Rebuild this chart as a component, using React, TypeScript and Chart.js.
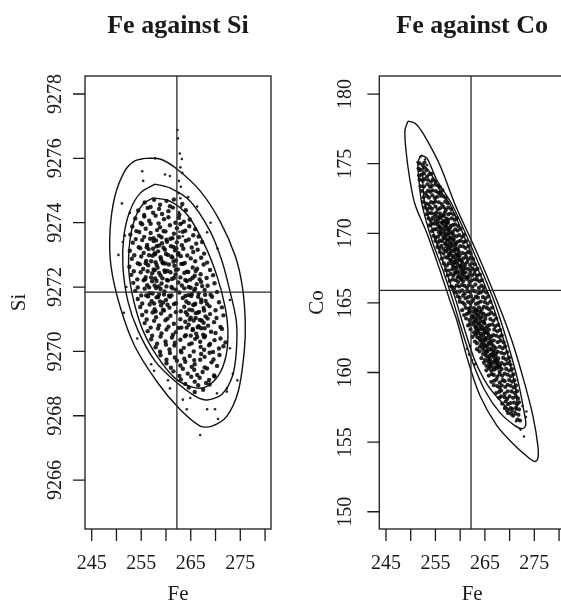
import React, { useEffect, useRef } from "react";
import { Chart, registerables } from "chart.js";

Chart.register(...registerables);

// ---------- axes ----------
const feTicks = [245, 250, 255, 260, 265, 270, 275, 280];
const feTickLabels = ["245", "", "255", "", "265", "", "275", ""];
const siTicks = [9266, 9268, 9270, 9272, 9274, 9276, 9278];
const coTicks = [150, 155, 160, 165, 170, 175, 180];
const feLimits = [243.65, 281.2];
const siLimits = [9264.48, 9278.56];
const coLimits = [148.76, 181.3];
const feReference = 262.2;
const siReference = 9271.84;
const coReference = 165.9;

// ---------- Fe against Si: contours ----------
const siContourOuter = [
  [255.8, 9276.0], [258.8, 9275.98], [262.2, 9275.67], [266.9, 9274.99], [270.9, 9274.05], [274.0, 9272.96],
  [275.4, 9272.03], [276.0, 9270.94], [275.8, 9270.0], [274.6, 9268.77], [272.3, 9267.99], [269.3, 9267.68],
  [266.9, 9267.68], [262.8, 9268.2], [258.4, 9269.01], [253.7, 9270.16], [250.7, 9271.41], [248.9, 9272.65],
  [248.7, 9273.74], [249.7, 9274.83], [251.7, 9275.61], [253.7, 9275.92], [255.8, 9276.0],
];
const siContourMiddle = [
  [257.8, 9275.2], [260.8, 9275.08], [264.9, 9274.67], [268.9, 9273.74], [271.3, 9272.81], [272.9, 9271.88],
  [274.2, 9270.94], [274.2, 9270.0], [273.4, 9269.23], [271.3, 9268.67], [268.3, 9268.49], [265.9, 9268.61],
  [261.8, 9269.08], [257.8, 9269.7], [254.4, 9270.63], [252.3, 9271.56], [251.3, 9272.65], [251.5, 9273.59],
  [252.7, 9274.36], [254.8, 9274.92], [257.8, 9275.2],
];
const siContourInner = [
  [257.4, 9274.77], [260.8, 9274.67], [264.5, 9274.21], [267.9, 9273.28], [270.3, 9272.34], [271.9, 9271.41],
  [272.5, 9270.63], [272.1, 9269.85], [270.5, 9269.23], [267.9, 9268.89], [265.3, 9268.89], [261.8, 9269.17],
  [258.2, 9269.85], [255.4, 9270.63], [253.5, 9271.56], [252.5, 9272.5], [252.7, 9273.43], [253.7, 9274.12],
  [255.4, 9274.58], [257.4, 9274.77],
];

// ---------- Fe against Si: draws (core) ----------
const siDraws = [
  [255.7, 9274.63], [256.9, 9274.49], [257.6, 9274.71], [258.8, 9274.56], [260.1, 9274.68], [260.8, 9274.51], [261.6, 9274.72], [263.3, 9274.58],
  [254.4, 9274.38], [255.6, 9274.24], [256.3, 9274.46], [257.4, 9274.31], [258.6, 9274.43], [259.2, 9274.27], [260.5, 9274.36], [261.4, 9274.47], [262.7, 9274.25], [264.0, 9274.39],
  [253.8, 9274.13], [254.9, 9273.99], [255.6, 9274.19], [256.6, 9274.06], [257.9, 9274.22], [258.5, 9273.98], [259.6, 9274.11], [260.5, 9274.17], [261.9, 9274.0], [262.6, 9274.15], [263.6, 9274.03], [264.8, 9274.1],
  [253.2, 9273.88], [254.0, 9273.74], [255.2, 9273.95], [255.9, 9273.81], [256.9, 9273.97], [258.2, 9273.77], [258.8, 9273.86], [259.9, 9273.73], [260.8, 9273.92], [262.2, 9273.83], [262.9, 9273.96], [263.9, 9273.75], [264.7, 9273.89], [265.9, 9273.8],
  [252.8, 9273.63], [253.9, 9273.49], [254.6, 9273.71], [255.6, 9273.56], [256.9, 9273.68], [257.5, 9273.52], [258.6, 9273.6], [259.5, 9273.74], [260.9, 9273.5], [261.6, 9273.66], [262.6, 9273.55], [263.4, 9273.72], [264.6, 9273.48], [265.5, 9273.61], [266.6, 9273.57],
  [253.3, 9273.38], [254.5, 9273.24], [255.2, 9273.46], [256.2, 9273.31], [257.5, 9273.43], [258.1, 9273.27], [259.2, 9273.36], [260.1, 9273.47], [261.5, 9273.25], [262.2, 9273.39], [263.2, 9273.3], [264.0, 9273.44], [265.2, 9273.23], [266.1, 9273.35], [267.3, 9273.4],
  [252.7, 9273.13], [253.6, 9272.99], [254.8, 9273.21], [255.5, 9273.06], [256.5, 9273.18], [257.8, 9273.02], [258.4, 9273.11], [259.5, 9273.22], [260.4, 9273.0], [261.8, 9273.14], [262.5, 9273.05], [263.5, 9273.19], [264.3, 9272.98], [265.5, 9273.09], [266.4, 9273.16], [267.7, 9273.04],
  [253.1, 9272.88], [254.3, 9272.74], [255.0, 9272.95], [256.0, 9272.81], [257.3, 9272.97], [257.9, 9272.77], [259.0, 9272.86], [259.9, 9272.73], [261.3, 9272.92], [262.0, 9272.83], [263.0, 9272.96], [263.8, 9272.75], [265.0, 9272.89], [265.9, 9272.8], [267.1, 9272.91], [268.3, 9272.76],
  [252.6, 9272.63], [253.5, 9272.49], [254.7, 9272.71], [255.4, 9272.56], [256.4, 9272.68], [257.7, 9272.52], [258.3, 9272.6], [259.4, 9272.74], [260.3, 9272.5], [261.7, 9272.66], [262.4, 9272.55], [263.4, 9272.72], [264.2, 9272.48], [265.4, 9272.61], [266.3, 9272.57], [267.6, 9272.7], [268.9, 9272.53],
  [253.0, 9272.38], [254.2, 9272.24], [254.9, 9272.46], [255.9, 9272.31], [257.2, 9272.43], [257.8, 9272.27], [258.9, 9272.36], [259.8, 9272.47], [261.2, 9272.25], [261.9, 9272.39], [262.9, 9272.3], [263.7, 9272.44], [264.9, 9272.23], [265.8, 9272.35], [267.0, 9272.4], [268.2, 9272.28], [269.5, 9272.37],
  [253.4, 9272.13], [254.3, 9271.99], [255.5, 9272.21], [256.2, 9272.06], [257.2, 9272.18], [258.5, 9272.02], [259.1, 9272.11], [260.2, 9272.22], [261.1, 9272.0], [262.5, 9272.14], [263.2, 9272.05], [264.2, 9272.19], [265.0, 9271.98], [266.2, 9272.09], [267.1, 9272.16], [268.4, 9272.04], [269.8, 9272.12],
  [253.8, 9271.88], [255.0, 9271.74], [255.7, 9271.95], [256.7, 9271.81], [258.0, 9271.97], [258.6, 9271.77], [259.7, 9271.86], [260.6, 9271.73], [262.0, 9271.92], [262.7, 9271.83], [263.7, 9271.96], [264.5, 9271.75], [265.7, 9271.89], [266.6, 9271.8], [267.8, 9271.91], [269.0, 9271.76], [270.3, 9271.85],
  [254.3, 9271.63], [255.2, 9271.49], [256.4, 9271.71], [257.1, 9271.56], [258.1, 9271.68], [259.4, 9271.52], [260.0, 9271.6], [261.1, 9271.74], [262.0, 9271.5], [263.4, 9271.66], [264.1, 9271.55], [265.1, 9271.72], [265.9, 9271.48], [267.1, 9271.61], [268.0, 9271.57], [269.3, 9271.7], [270.7, 9271.53],
  [254.8, 9271.38], [256.0, 9271.24], [256.7, 9271.46], [257.7, 9271.31], [259.0, 9271.43], [259.6, 9271.27], [260.7, 9271.36], [261.6, 9271.47], [263.0, 9271.25], [263.7, 9271.39], [264.7, 9271.3], [265.5, 9271.44], [266.7, 9271.23], [267.6, 9271.35], [268.8, 9271.4], [270.0, 9271.28], [271.3, 9271.37],
  [255.2, 9271.13], [256.1, 9270.99], [257.3, 9271.21], [258.0, 9271.06], [259.0, 9271.18], [260.3, 9271.02], [260.9, 9271.11], [262.0, 9271.22], [262.9, 9271.0], [264.3, 9271.14], [265.0, 9271.05], [266.0, 9271.19], [266.8, 9270.98], [268.0, 9271.09], [268.9, 9271.16], [270.2, 9271.04], [271.6, 9271.12],
  [255.7, 9270.88], [256.9, 9270.74], [257.6, 9270.95], [258.6, 9270.81], [259.9, 9270.97], [260.5, 9270.77], [261.6, 9270.86], [262.5, 9270.73], [263.9, 9270.92], [264.6, 9270.83], [265.6, 9270.96], [266.4, 9270.75], [267.6, 9270.89], [268.5, 9270.8], [269.7, 9270.91], [271.0, 9270.76],
  [256.3, 9270.63], [257.2, 9270.49], [258.4, 9270.71], [259.1, 9270.56], [260.1, 9270.68], [261.4, 9270.52], [262.0, 9270.6], [263.1, 9270.74], [264.0, 9270.5], [265.4, 9270.66], [266.1, 9270.55], [267.1, 9270.72], [267.9, 9270.48], [269.1, 9270.61], [270.0, 9270.57], [271.3, 9270.7],
  [257.0, 9270.38], [258.2, 9270.24], [258.9, 9270.46], [259.9, 9270.31], [261.2, 9270.43], [261.8, 9270.27], [262.9, 9270.36], [263.8, 9270.47], [265.2, 9270.25], [265.9, 9270.39], [266.9, 9270.3], [267.7, 9270.44], [268.9, 9270.23], [269.8, 9270.35], [271.0, 9270.4], [272.0, 9270.28],
  [257.9, 9270.13], [258.8, 9269.99], [260.0, 9270.21], [260.7, 9270.06], [261.7, 9270.18], [263.0, 9270.02], [263.6, 9270.11], [264.7, 9270.22], [265.6, 9270.0], [267.0, 9270.14], [267.7, 9270.05], [268.7, 9270.19], [269.5, 9269.98], [270.7, 9270.09], [271.6, 9270.16],
  [258.9, 9269.88], [260.1, 9269.74], [260.8, 9269.95], [261.8, 9269.81], [263.1, 9269.97], [263.7, 9269.77], [264.8, 9269.86], [265.7, 9269.73], [267.1, 9269.92], [267.8, 9269.83], [268.8, 9269.96], [269.6, 9269.75], [270.8, 9269.89],
  [260.1, 9269.63], [261.0, 9269.49], [262.2, 9269.71], [262.9, 9269.56], [263.9, 9269.68], [265.2, 9269.52], [265.8, 9269.6], [266.9, 9269.74], [267.8, 9269.5], [269.2, 9269.66], [270.3, 9269.55],
  [261.5, 9269.38], [262.7, 9269.24], [263.4, 9269.46], [264.4, 9269.31], [265.7, 9269.43], [266.3, 9269.27], [267.4, 9269.36], [268.3, 9269.47], [269.7, 9269.25],
  [263.0, 9269.13], [263.9, 9268.99], [265.1, 9269.21], [265.8, 9269.06], [266.8, 9269.18], [268.1, 9269.02], [268.7, 9269.11], [269.8, 9269.22],
  [264.6, 9268.88], [265.8, 9268.74], [266.5, 9268.95], [267.5, 9268.81], [268.8, 9268.97],
];
// the two darkest patches of the Si cloud
const siDenseDraws = [
  [256.8, 9273.5], [258.0, 9273.45], [259.1, 9273.55], [260.2, 9273.41], [261.3, 9273.52],
  [256.1, 9273.24], [257.4, 9273.19], [258.6, 9273.29], [259.8, 9273.16], [261.0, 9273.27], [262.1, 9273.2],
  [256.6, 9272.99], [257.7, 9273.05], [258.9, 9272.93], [260.0, 9273.03], [261.1, 9272.95], [262.4, 9273.01],
  [255.9, 9272.74], [257.0, 9272.8], [258.1, 9272.69], [259.3, 9272.77], [260.6, 9272.7], [261.5, 9272.79], [263.1, 9272.72],
  [256.3, 9272.49], [257.5, 9272.55], [258.6, 9272.44], [259.7, 9272.52], [260.9, 9272.46], [262.0, 9272.53], [264.5, 9272.47], [266.0, 9272.5],
  [255.8, 9272.24], [257.0, 9272.3], [258.1, 9272.19], [259.3, 9272.27], [260.4, 9272.2], [261.6, 9272.28], [263.9, 9272.22], [265.4, 9272.29], [266.8, 9272.24],
  [256.6, 9271.99], [257.7, 9272.05], [258.9, 9271.94], [260.1, 9272.02], [261.3, 9271.96], [264.6, 9272.0], [265.9, 9271.95], [267.3, 9272.03],
  [256.0, 9271.74], [257.3, 9271.8], [258.4, 9271.69], [259.6, 9271.77], [260.8, 9271.7], [263.9, 9271.72], [265.2, 9271.78], [266.5, 9271.7], [267.9, 9271.76],
  [257.6, 9271.49], [258.8, 9271.55], [260.3, 9271.45], [264.6, 9271.5], [265.8, 9271.46], [267.1, 9271.53], [268.3, 9271.47],
  [257.9, 9271.24], [259.4, 9271.3], [264.0, 9271.22], [265.3, 9271.28], [266.4, 9271.2], [267.7, 9271.27],
  [264.8, 9270.99], [266.0, 9271.04], [267.2, 9270.96], [268.4, 9271.02],
  [264.2, 9270.74], [265.4, 9270.7], [266.6, 9270.78], [267.8, 9270.72],
  [265.0, 9270.49], [266.3, 9270.45], [267.5, 9270.52],
];
// scattered Si draws: the streak above the cloud and the stragglers between the contours
const siSparseDraws = [
  [262.3, 9276.88], [262.4, 9276.62], [262.8, 9276.15], [263.2, 9275.98], [262.9, 9275.72], [263.3, 9275.55], [262.6, 9275.3], [263.0, 9275.12],
  [262.5, 9274.92], [262.9, 9274.76], [263.1, 9274.5], [262.6, 9274.33], [263.2, 9273.98], [262.7, 9273.72], [263.4, 9273.58],
  [255.2, 9275.6], [255.4, 9275.3], [257.8, 9276.0], [259.8, 9275.5], [260.8, 9275.45], [251.1, 9274.6], [251.7, 9273.6], [251.3, 9273.4],
  [252.7, 9274.3], [266.3, 9274.5], [264.5, 9274.8], [268.3, 9273.7], [272.9, 9271.6], [272.9, 9270.1], [273.5, 9269.3], [272.3, 9268.85],
  [269.9, 9268.2], [270.5, 9267.9], [266.9, 9267.4], [264.2, 9268.2], [263.4, 9268.5], [264.9, 9268.55], [260.8, 9268.85], [260.4, 9269.1],
  [268.3, 9268.2], [270.3, 9268.7], [272.3, 9268.75], [274.4, 9269.1], [252.0, 9272.0], [251.5, 9271.2], [254.2, 9270.4], [257.0, 9269.6],
  [257.6, 9269.4], [250.4, 9273.0], [269.0, 9274.0], [270.4, 9273.2],
];

// ---------- Fe against Co: contours ----------
const coContourOuter = [
  [249.44, 178.06], [250.86, 177.91], [252.47, 177.19], [255.91, 174.89], [258.94, 172.09], [263.18, 168.78],
  [267.42, 165.18], [270.45, 162.3], [272.88, 159.42], [274.7, 156.91], [275.71, 154.75], [275.71, 153.81],
  [275.1, 153.6], [274.09, 153.81], [271.06, 154.75], [267.42, 156.19], [263.99, 158.35], [261.57, 160.86],
  [259.34, 163.74], [257.93, 165.18], [255.91, 167.34], [253.28, 170.0], [250.86, 172.09], [249.85, 173.81],
  [249.04, 175.97], [248.84, 177.41], [249.44, 178.06],
];
const coContourMiddle = [
  [252.07, 175.61], [253.28, 175.4], [255.3, 173.81], [258.33, 172.09], [262.58, 168.78], [266.82, 165.18],
  [269.44, 162.3], [271.67, 159.42], [272.88, 157.27], [273.28, 156.26], [272.68, 155.97], [271.06, 156.19],
  [268.03, 157.12], [265.0, 158.71], [262.37, 160.86], [260.35, 163.02], [258.54, 165.18], [256.52, 167.34],
  [254.29, 169.5], [252.27, 172.09], [251.67, 173.81], [251.46, 175.11], [252.07, 175.61],
];
const coContourInner = [
  [252.68, 174.89], [253.89, 174.39], [255.91, 173.09], [257.93, 172.09], [261.97, 168.78], [266.21, 165.18],
  [268.84, 162.3], [270.66, 159.78], [271.46, 157.99], [271.26, 157.27], [270.45, 157.19], [268.64, 157.77],
  [265.61, 159.06], [262.98, 160.86], [260.96, 163.02], [259.14, 165.18], [257.12, 167.34], [255.1, 169.5],
  [252.88, 172.09], [252.47, 173.45], [252.47, 174.53], [252.68, 174.89],
];

// ---------- Fe against Co: draws (core) ----------
const coDraws = [
  [251.8, 175.03], [252.4, 174.9], [252.8, 175.08],
  [252.0, 174.56], [252.7, 174.72], [253.2, 174.53],
  [252.2, 174.21], [252.7, 174.3], [253.3, 174.08], [253.8, 174.25],
  [252.4, 173.78], [252.8, 173.89], [253.5, 173.83], [254.1, 173.7], [254.5, 173.88],
  [252.7, 173.36], [253.4, 173.52], [253.9, 173.33], [254.3, 173.41], [255.0, 173.5],
  [253.0, 172.88], [253.5, 173.05], [254.0, 172.98], [254.4, 173.09], [255.1, 173.03], [255.6, 172.9],
  [253.3, 172.68], [253.7, 172.56], [254.4, 172.72], [254.9, 172.53], [255.3, 172.61], [256.0, 172.7],
  [253.6, 172.08], [254.1, 172.25], [254.6, 172.18], [255.0, 172.29], [255.7, 172.23], [256.3, 172.1],
  [253.9, 171.88], [254.3, 171.76], [255.0, 171.92], [255.5, 171.73], [256.0, 171.81], [256.6, 171.9], [257.1, 171.68],
  [254.2, 171.45], [254.8, 171.38], [255.2, 171.49], [255.9, 171.43], [256.5, 171.3], [256.9, 171.48], [257.6, 171.36],
  [254.5, 171.12], [255.0, 170.93], [255.5, 171.01], [256.1, 171.1], [256.6, 170.88], [257.2, 171.05], [257.6, 170.98],
  [254.8, 170.69], [255.4, 170.63], [255.8, 170.5], [256.5, 170.68], [257.0, 170.56], [257.4, 170.72], [258.1, 170.53], [258.6, 170.61],
  [255.2, 170.3], [255.7, 170.08], [256.1, 170.25], [256.8, 170.18], [257.4, 170.29], [257.8, 170.23], [258.5, 170.1], [259.0, 170.28],
  [255.5, 169.76], [256.0, 169.92], [256.6, 169.73], [257.1, 169.81], [257.6, 169.9], [258.0, 169.68], [258.7, 169.85], [259.3, 169.78],
  [255.9, 169.49], [256.3, 169.43], [257.0, 169.3], [257.5, 169.48], [258.0, 169.36], [258.6, 169.52], [259.1, 169.33], [259.6, 169.41],
  [256.2, 169.1], [256.6, 168.88], [257.3, 169.05], [257.9, 168.98], [258.3, 169.09], [259.0, 169.03], [259.5, 168.9], [260.0, 169.08],
  [256.6, 168.56], [257.1, 168.72], [257.7, 168.53], [258.1, 168.61], [258.8, 168.7], [259.4, 168.48], [259.8, 168.65], [260.5, 168.58],
  [257.0, 168.29], [257.5, 168.23], [258.0, 168.1], [258.6, 168.28], [259.1, 168.16], [259.6, 168.32], [260.0, 168.13], [260.7, 168.21], [261.2, 168.3],
  [257.3, 167.68], [257.7, 167.85], [258.4, 167.78], [258.9, 167.89], [259.4, 167.83], [260.0, 167.7], [260.5, 167.88], [261.0, 167.76], [261.4, 167.92],
  [257.7, 167.33], [258.4, 167.41], [259.0, 167.5], [259.4, 167.28], [260.1, 167.45], [260.6, 167.38], [261.1, 167.49], [261.7, 167.43], [262.1, 167.3],
  [258.1, 167.08], [258.6, 166.96], [259.0, 167.12], [259.7, 166.93], [260.3, 167.01], [260.7, 167.1], [261.4, 166.88], [261.9, 167.05], [262.4, 166.98],
  [258.5, 166.69], [259.1, 166.63], [259.6, 166.5], [260.2, 166.68], [260.6, 166.56], [261.3, 166.72], [261.9, 166.53], [262.3, 166.61], [262.9, 166.7],
  [258.8, 166.08], [259.3, 166.25], [259.8, 166.18], [260.4, 166.29], [260.9, 166.23], [261.4, 166.1], [261.8, 166.28], [262.5, 166.16], [263.1, 166.32],
  [259.2, 165.73], [259.9, 165.81], [260.4, 165.9], [260.9, 165.68], [261.5, 165.85], [262.0, 165.78], [262.6, 165.89], [263.0, 165.83], [263.7, 165.7],
  [259.5, 165.48], [259.9, 165.36], [260.6, 165.52], [261.1, 165.33], [261.6, 165.41], [262.2, 165.5], [262.7, 165.28], [263.2, 165.45], [263.6, 165.38],
  [259.9, 165.09], [260.5, 165.03], [260.9, 164.9], [261.6, 165.08], [262.1, 164.96], [262.5, 165.12], [263.2, 164.93], [263.7, 165.01], [264.2, 165.1],
  [260.4, 164.48], [261.1, 164.65], [261.7, 164.58], [262.1, 164.69], [262.8, 164.63], [263.3, 164.5], [263.8, 164.68], [264.4, 164.56], [264.8, 164.72],
  [260.8, 164.13], [261.4, 164.21], [261.8, 164.3], [262.5, 164.08], [263.1, 164.25], [263.5, 164.18], [264.2, 164.29], [264.7, 164.23], [265.2, 164.1],
  [261.2, 163.88], [261.9, 163.76], [262.4, 163.92], [263.0, 163.73], [263.4, 163.81], [264.1, 163.9], [264.7, 163.68], [265.1, 163.85],
  [261.6, 163.38], [262.0, 163.49], [262.7, 163.43], [263.2, 163.3], [263.8, 163.48], [264.2, 163.36], [264.9, 163.52], [265.5, 163.33], [265.9, 163.41],
  [262.1, 163.1], [262.8, 162.88], [263.3, 163.05], [263.7, 162.98], [264.4, 163.09], [264.9, 163.03], [265.4, 162.9], [265.8, 163.08],
  [262.5, 162.56], [263.1, 162.72], [263.5, 162.53], [264.2, 162.61], [264.7, 162.7], [265.1, 162.48], [265.8, 162.65], [266.3, 162.58], [266.7, 162.69],
  [263.0, 162.23], [263.4, 162.1], [264.1, 162.28], [264.7, 162.16], [265.1, 162.32], [265.8, 162.13], [266.3, 162.21], [266.8, 162.3],
  [263.4, 161.68], [264.0, 161.85], [264.5, 161.78], [265.1, 161.89], [265.5, 161.83], [266.2, 161.7], [266.8, 161.88], [267.2, 161.76],
  [263.9, 161.52], [264.6, 161.33], [265.1, 161.41], [265.5, 161.5], [266.2, 161.28], [266.7, 161.45], [267.2, 161.38], [267.6, 161.49],
  [264.3, 161.03], [265.0, 160.9], [265.6, 161.08], [266.0, 160.96], [266.7, 161.12], [267.2, 160.93], [267.7, 161.01],
  [264.8, 160.7], [265.3, 160.48], [265.9, 160.65], [266.3, 160.58], [267.0, 160.69], [267.6, 160.63], [268.0, 160.5], [268.4, 160.68],
  [265.3, 160.16], [265.8, 160.32], [266.3, 160.13], [266.9, 160.21], [267.4, 160.3], [268.0, 160.08], [268.4, 160.25],
  [265.8, 159.78], [266.4, 159.89], [266.8, 159.83], [267.5, 159.7], [268.0, 159.88], [268.5, 159.76], [269.0, 159.92],
  [266.3, 159.33], [266.9, 159.41], [267.3, 159.5], [268.0, 159.28], [268.6, 159.45], [269.0, 159.38],
  [266.8, 159.09], [267.5, 159.03], [268.0, 158.9], [268.4, 159.08], [269.1, 158.96], [269.6, 159.12],
  [267.3, 158.53], [267.9, 158.61], [268.3, 158.7], [269.0, 158.48], [269.6, 158.65],
  [267.9, 158.18], [268.3, 158.29], [269.0, 158.23], [269.5, 158.1], [270.0, 158.28],
  [268.5, 157.76], [269.2, 157.92], [269.7, 157.73], [270.2, 157.81],
  [269.1, 157.5], [269.5, 157.28], [270.2, 157.45], [270.6, 157.38],
  [269.7, 157.09], [270.3, 157.03], [270.7, 156.9],
];
// the outer flanks of the Co band
const coEdgeDraws = [
  [251.6, 174.65], [251.7, 174.15], [254.2, 174.28], [251.8, 173.86], [255.0, 173.74],
  [252.0, 173.38], [255.5, 173.45], [255.9, 173.32], [252.2, 173.04], [256.0, 172.95], [256.4, 173.09],
  [252.6, 172.58], [256.6, 172.66], [257.1, 172.55], [252.6, 172.25], [253.1, 172.14], [257.0, 172.27], [257.5, 172.16],
  [252.9, 171.86], [253.4, 171.72], [257.6, 171.84], [258.2, 171.74], [253.2, 171.37], [253.7, 171.46], [258.1, 171.44], [258.7, 171.35],
  [253.6, 171.07], [254.1, 170.95], [258.3, 171.08], [258.9, 170.96], [259.3, 171.1],
  [253.8, 170.57], [254.3, 170.69], [259.0, 170.64], [259.6, 170.52], [254.3, 170.16], [254.8, 170.28], [259.5, 170.2], [260.1, 170.32],
  [254.6, 169.82], [255.0, 169.7], [259.8, 169.87], [260.4, 169.75], [260.8, 169.9],
  [255.0, 169.45], [255.5, 169.33], [260.1, 169.47], [260.7, 169.36], [261.2, 169.44],
  [255.4, 169.02], [255.8, 168.93], [260.6, 169.06], [261.1, 168.95], [261.7, 169.08],
  [255.9, 168.65], [261.1, 168.52], [261.6, 168.66], [262.1, 168.57], [256.3, 168.18], [261.6, 168.12], [262.1, 168.26], [262.6, 168.15],
  [256.7, 167.84], [262.0, 167.72], [262.5, 167.85], [263.0, 167.76], [257.1, 167.36], [262.5, 167.48], [263.0, 167.35], [263.5, 167.44],
  [257.5, 166.97], [262.9, 167.1], [263.4, 166.94], [264.0, 167.04], [257.9, 166.58], [263.4, 166.67], [263.9, 166.55], [264.4, 166.64],
  [258.3, 166.17], [263.8, 166.08], [264.3, 166.24], [264.8, 166.12], [258.8, 165.85], [264.2, 165.76], [264.7, 165.88], [265.3, 165.74],
  [264.6, 165.42], [265.1, 165.33], [265.7, 165.47], [265.0, 165.06], [265.5, 164.94], [266.1, 165.08],
  [265.4, 164.64], [265.9, 164.53], [266.5, 164.67], [265.8, 164.18], [266.3, 164.3], [266.9, 164.16],
  [266.1, 163.84], [266.7, 163.72], [267.3, 163.87], [266.5, 163.45], [267.1, 163.33], [267.7, 163.42],
  [266.9, 163.08], [267.5, 162.96], [268.1, 163.05], [267.3, 162.64], [267.9, 162.55], [268.4, 162.67],
  [267.6, 162.18], [268.2, 162.29], [268.8, 162.15], [268.0, 161.85], [268.6, 161.74], [269.1, 161.88],
  [268.3, 161.42], [268.9, 161.35], [269.5, 161.47], [268.7, 161.05], [269.3, 160.94], [269.9, 161.07],
  [269.0, 160.57], [269.6, 160.68], [270.2, 160.55], [269.3, 160.26], [269.9, 160.14], [270.5, 160.25],
  [269.6, 159.84], [270.2, 159.73], [270.8, 159.86], [269.9, 159.46], [270.5, 159.34], [271.0, 159.44],
  [270.2, 159.05], [270.8, 158.93], [271.3, 159.07], [270.4, 158.64], [271.0, 158.53], [271.5, 158.66],
  [270.7, 158.18], [271.3, 158.27], [271.7, 158.14], [270.9, 157.84], [271.5, 157.72], [271.9, 157.86],
  [271.3, 157.46], [271.9, 157.35], [271.2, 157.05], [271.8, 156.96], [271.6, 156.62], [272.1, 156.55],
];
// the two darkest stretches of the Co band
const coDenseDraws = [
  [255.2, 171.22], [255.9, 171.18], [256.7, 171.25],
  [255.5, 170.82], [256.2, 170.77], [256.9, 170.85], [257.5, 170.8],
  [255.9, 170.42], [256.6, 170.38], [257.3, 170.45], [258.0, 170.4],
  [256.2, 170.02], [256.9, 169.97], [257.6, 170.05], [258.3, 169.99],
  [256.7, 169.62], [257.3, 169.57], [258.0, 169.65], [258.7, 169.6],
  [257.0, 169.22], [257.7, 169.18], [258.4, 169.25], [259.1, 169.2],
  [257.4, 168.82], [258.1, 168.77], [258.8, 168.85], [259.5, 168.8],
  [257.8, 168.42], [258.5, 168.38], [259.2, 168.45], [259.9, 168.4],
  [258.2, 168.02], [258.9, 167.97], [259.6, 168.05], [260.3, 168.0],
  [258.6, 167.62], [259.3, 167.57], [260.0, 167.65], [260.7, 167.6],
  [259.0, 167.22], [259.7, 167.18], [260.4, 167.25], [261.1, 167.2],
  [259.5, 166.82], [260.2, 166.77], [260.9, 166.85], [261.6, 166.8],
  [261.9, 164.42], [262.6, 164.38], [263.3, 164.45], [264.0, 164.4],
  [262.3, 164.02], [263.0, 163.97], [263.7, 164.05], [264.4, 164.0],
  [262.7, 163.62], [263.4, 163.57], [264.1, 163.65], [264.8, 163.6],
  [263.1, 163.22], [263.8, 163.18], [264.5, 163.25], [265.2, 163.2],
  [263.5, 162.82], [264.2, 162.77], [264.9, 162.85], [265.6, 162.8],
  [263.9, 162.42], [264.6, 162.38], [265.3, 162.45], [266.0, 162.4],
  [264.3, 162.02], [265.0, 161.97], [265.7, 162.05], [266.4, 162.0],
  [264.7, 161.62], [265.4, 161.57], [266.1, 161.65], [266.8, 161.6],
  [265.2, 161.22], [265.9, 161.18], [266.6, 161.25], [267.2, 161.2],
  [265.6, 160.82], [266.3, 160.77], [267.0, 160.85], [267.6, 160.8],
  [266.0, 160.42], [266.7, 160.38], [267.4, 160.45], [268.0, 160.4],
];
// scattered Co draws outside the dense band
const coSparseDraws = [
  [251.4, 175.1], [252.0, 175.5], [251.7, 174.5], [252.9, 175.3], [253.3, 174.9], [251.9, 173.9], [255.6, 173.4], [256.9, 171.8],
  [254.0, 170.6], [259.3, 171.0], [261.4, 161.7], [261.8, 161.3], [262.0, 161.9], [262.4, 160.9], [263.0, 160.6], [270.1, 160.8],
  [271.2, 158.9], [272.6, 157.6], [273.4, 157.2], [273.3, 156.8], [272.2, 155.9], [272.9, 155.4], [271.3, 156.5], [268.9, 157.4],
  [263.5, 167.0], [258.0, 166.2],
];

const SERIF = "'Liberation Serif', 'Times New Roman', serif";
const INK = "#1a1a1a";

type Spec = {
  title: string;
  yTitle: string;
  xLim: number[];
  yLim: number[];
  yTicks: number[];
  xRef: number;
  yRef: number;
  contours: number[][][];
  draws: number[][];
  sparse: number[][];
  padLeft: number;
  padRight: number;
  yLabelGap: number;
  yTitleGap: number;
  pointRadius: number;
};

function makeFrame(spec: Spec) {
  return {
    id: "rframe",
    afterDatasetsDraw(chart: any) {
      const { ctx, chartArea: a } = chart;
      const xs = chart.scales.x;
      const ys = chart.scales.y;
      ctx.save();
      ctx.strokeStyle = INK;
      ctx.lineWidth = 1.3;
      ctx.strokeRect(a.left, a.top, a.right - a.left, a.bottom - a.top);
      ctx.beginPath();
      feTicks.forEach((v) => {
        const p = xs.getPixelForValue(v);
        ctx.moveTo(p, a.bottom);
        ctx.lineTo(p, a.bottom + 12);
      });
      spec.yTicks.forEach((v) => {
        const p = ys.getPixelForValue(v);
        ctx.moveTo(a.left, p);
        ctx.lineTo(a.left - 12, p);
      });
      ctx.stroke();

      ctx.fillStyle = INK;
      ctx.textAlign = "center";
      ctx.textBaseline = "alphabetic";
      ctx.font = `20px ${SERIF}`;
      feTicks.forEach((v, i) => {
        const t = feTickLabels[i];
        if (t) ctx.fillText(t, xs.getPixelForValue(v), a.bottom + 40);
      });
      spec.yTicks.forEach((v) => {
        const p = ys.getPixelForValue(v);
        ctx.save();
        ctx.translate(a.left - spec.yLabelGap, p);
        ctx.rotate(-Math.PI / 2);
        ctx.fillText(String(v), 0, 0);
        ctx.restore();
      });

      ctx.font = `21px ${SERIF}`;
      ctx.fillText("Fe", (a.left + a.right) / 2, a.bottom + 71);
      ctx.save();
      ctx.translate(a.left - spec.yTitleGap, (a.top + a.bottom) / 2);
      ctx.rotate(-Math.PI / 2);
      ctx.fillText(spec.yTitle, 0, 0);
      ctx.restore();

      ctx.font = `bold 26px ${SERIF}`;
      ctx.fillText(spec.title, (a.left + a.right) / 2, a.top - 43);
      ctx.restore();
    },
  };
}

function buildConfig(spec: Spec): any {
  const toXY = (arr: number[][]) => arr.map(([x, y]) => ({ x, y }));
  const refLine = (data: { x: number; y: number }[]) => ({
    data,
    showLine: true,
    pointRadius: 0,
    borderColor: "#2a2a2a",
    borderWidth: 1.3,
    fill: false,
  });
  const contour = (c: number[][]) => ({
    data: toXY(c),
    showLine: true,
    pointRadius: 0,
    borderColor: "#111",
    borderWidth: 1.4,
    tension: 0.3,
    fill: false,
  });
  const dots = (arr: number[][], r: number) => ({
    data: toXY(arr),
    showLine: false,
    pointRadius: r,
    pointBorderWidth: 0,
    pointBackgroundColor: "rgba(0,0,0,0.85)",
    pointBorderColor: "rgba(0,0,0,0)",
  });
  return {
    type: "scatter",
    data: {
      datasets: [
        refLine([
          { x: spec.xRef, y: spec.yLim[0] },
          { x: spec.xRef, y: spec.yLim[1] },
        ]),
        refLine([
          { x: spec.xLim[0], y: spec.yRef },
          { x: spec.xLim[1], y: spec.yRef },
        ]),
        ...spec.contours.map(contour),
        dots(spec.sparse, 1.3),
        dots(spec.draws, spec.pointRadius),
      ],
    },
    options: {
      responsive: false,
      animation: false,
      devicePixelRatio: 1,
      events: [],
      layout: { padding: { left: spec.padLeft, right: spec.padRight, top: 76, bottom: 73 } },
      scales: {
        x: { type: "linear", display: false, min: spec.xLim[0], max: spec.xLim[1] },
        y: { type: "linear", display: false, min: spec.yLim[0], max: spec.yLim[1] },
      },
      plugins: {
        legend: { display: false },
        tooltip: { enabled: false },
        title: { display: false },
      },
    },
    plugins: [makeFrame(spec)],
  };
}

function Panel({ spec, left, width }: { spec: Spec; left: number; width: number }) {
  const ref = useRef<HTMLCanvasElement>(null);
  useEffect(() => {
    const chart = new Chart(ref.current as HTMLCanvasElement, buildConfig(spec));
    return () => chart.destroy();
  }, [spec]);
  return (
    <canvas
      ref={ref}
      width={width}
      height={602}
      style={{ position: "absolute", left, top: 0, width, height: 602, display: "block" }}
    />
  );
}

const siSpec: Spec = {
  title: "Fe against Si",
  yTitle: "Si",
  xLim: feLimits,
  yLim: siLimits,
  yTicks: siTicks,
  xRef: feReference,
  yRef: siReference,
  contours: [siContourOuter, siContourMiddle, siContourInner],
  draws: [...siDraws, ...siDenseDraws],
  sparse: siSparseDraws,
  padLeft: 85,
  padRight: 9,
  yLabelGap: 24,
  yTitleGap: 60,
  pointRadius: 2.2,
};

const coSpec: Spec = {
  title: "Fe against Co",
  yTitle: "Co",
  xLim: feLimits,
  yLim: coLimits,
  yTicks: coTicks,
  xRef: feReference,
  yRef: coReference,
  contours: [coContourOuter, coContourMiddle, coContourInner],
  draws: [...coDraws, ...coEdgeDraws, ...coDenseDraws],
  sparse: coSparseDraws,
  padLeft: 99.3,
  padRight: 5,
  yLabelGap: 28,
  yTitleGap: 56,
  pointRadius: 2.1,
};

export default function App() {
  return (
    <div
      style={{
        position: "absolute",
        left: 0,
        top: 0,
        width: 561,
        height: 602,
        overflow: "hidden",
        background: "#fff",
      }}
    >
      <Panel spec={siSpec} left={0} width={280} />
      <Panel spec={coSpec} left={280} width={290} />
    </div>
  );
}
